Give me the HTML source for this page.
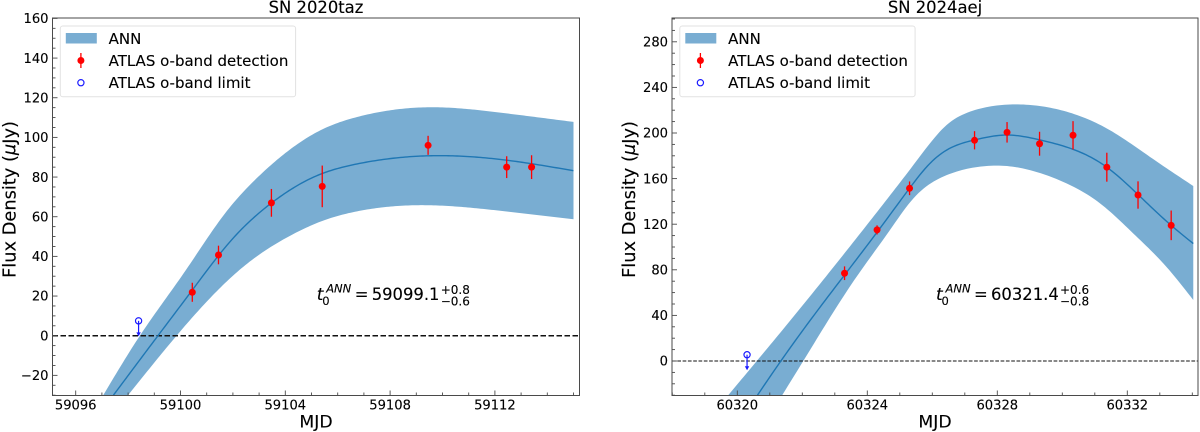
<!DOCTYPE html>
<html lang="en">
<head>
<meta charset="utf-8">
<title>SN light curves</title>
<style>
html,body{margin:0;padding:0;background:#fff;width:1200px;height:432px;overflow:hidden}
svg{display:block}
text{font-family:"DejaVu Sans","Liberation Sans",sans-serif;fill:#000;stroke:#000;stroke-width:.12px}
</style>
</head>
<body>
<svg id="fig" xmlns="http://www.w3.org/2000/svg" width="1200" height="432" viewBox="0 0 1200 432"></svg>
<script>
/* ---------- SN 2020taz data ---------- */
const tazTitle = 'SN 2020taz';
const tazXTicks = [59096, 59100, 59104, 59108, 59112];
const tazYTicks = [-20, 0, 20, 40, 60, 80, 100, 120, 140, 160];
const tazMidMjd = [59097.44, 59099.14, 59100.45, 59101.95, 59103.48, 59105.26, 59106.66, 59109.4, 59112.45, 59115];
const tazMidFlux = [-30, 0, 23, 48.3, 67, 81, 86.4, 90.7, 88.5, 83.2];
const tazUpMjd = [59097.05, 59098.45, 59100.2, 59101.7, 59102.97, 59104.24, 59105.5, 59106.66, 59109.5, 59112.2, 59115];
const tazUpFlux = [-30, 0, 33, 61.7, 80.2, 94.5, 104.6, 110, 115.2, 112.5, 107.8];
const tazLowMjd = [59098, 59099.85, 59101.06, 59102.4, 59104.24, 59105.5, 59106.66, 59109, 59112.2, 59115];
const tazLowFlux = [-30, 0, 18, 34.8, 50.8, 58.3, 62.5, 65.8, 63, 58.7];
const tazDetMjd = [59100.45, 59101.45, 59103.47, 59105.41, 59109.45, 59112.45, 59113.4];
const tazDetFlux = [21.9, 40.7, 67, 75.3, 96, 85, 85];
const tazDetErr = [4.8, 4.7, 7, 10.5, 4.8, 5.5, 6];
const tazLimitMjd = [59098.4];
const tazLimitFlux = [7.5];

/* ---------- SN 2024aej data ---------- */
const aejTitle = 'SN 2024aej';
const aejXTicks = [60320, 60324, 60328, 60332];
const aejYTicks = [0, 40, 80, 120, 160, 200, 240, 280];
const aejMidMjd = [60320.62, 60321.34, 60323.18, 60324.39, 60325.3, 60325.93, 60326.44, 60327.3, 60328.3, 60329.3, 60330.33, 60331.37, 60332.33, 60333.35, 60334.03];
const aejMidFlux = [-30, 0, 71, 116.4, 151.5, 173.4, 185, 193.9, 198.2, 194, 185.7, 170, 146, 119, 103];
const aejUpMjd = [60319.72, 60320.6, 60322.64, 60324.39, 60325.42, 60325.93, 60326.44, 60327.16, 60328.39, 60330.13, 60331.37, 60332.7, 60334.03];
const aejUpFlux = [-30, 0, 71, 134, 172, 191, 207, 218.7, 225, 218.7, 204, 179, 153.5];
const aejLowMjd = [60321.38, 60322.03, 60323.6, 60324.7, 60325.42, 60326.44, 60327.47, 60328.3, 60329.1, 60330.13, 60331.16, 60332.18, 60333.2, 60334.03];
const aejLowFlux = [-30, 0, 71, 115, 142.7, 163, 170.5, 171, 166.7, 155.8, 138.3, 112, 82.7, 53.5];
const aejDetMjd = [60323.3, 60324.3, 60325.3, 60327.3, 60328.3, 60329.3, 60330.33, 60331.37, 60332.33, 60333.35];
const aejDetFlux = [77, 115, 151.5, 193.6, 200.6, 190.6, 198, 170, 145.6, 119];
const aejDetErr = [6, 4, 6, 8, 9, 10.5, 12.4, 12.7, 12, 13];
const aejLimitMjd = [60320.3];
const aejLimitFlux = [5.5];

const NS = 'http://www.w3.org/2000/svg';
const fig = document.getElementById('fig');
const DARK = '#4a4a4a';
const BAND = '#79add2';
const LINE = '#1f77b4';

function make(parent, tag, attrs, txt) {
  const e = document.createElementNS(NS, tag);
  for (const k in attrs) e.setAttribute(k, attrs[k]);
  if (txt !== undefined) e.textContent = txt;
  parent.appendChild(e);
  return e;
}

/* natural cubic spline through the knots, returned as pixel points */
function splinePoints(xs, ys, sx, sy) {
  const n = xs.length, h = [], al = [0], l = [1], mu = [0], z = [0], c = new Array(n).fill(0), b = [], d = [];
  for (let i = 0; i < n - 1; i++) h.push(xs[i + 1] - xs[i]);
  for (let i = 1; i < n - 1; i++) {
    al[i] = 3 * (ys[i + 1] - ys[i]) / h[i] - 3 * (ys[i] - ys[i - 1]) / h[i - 1];
    l[i] = 2 * (xs[i + 1] - xs[i - 1]) - h[i - 1] * mu[i - 1];
    mu[i] = h[i] / l[i];
    z[i] = (al[i] - h[i - 1] * z[i - 1]) / l[i];
  }
  for (let j = n - 2; j >= 0; j--) {
    c[j] = (j === 0 ? 0 : z[j]) - mu[j] * c[j + 1];
    b[j] = (ys[j + 1] - ys[j]) / h[j] - h[j] * (c[j + 1] + 2 * c[j]) / 3;
    d[j] = (c[j + 1] - c[j]) / (3 * h[j]);
  }
  const pts = [];
  for (let j = 0; j < n - 1; j++) {
    const steps = Math.max(2, Math.ceil(h[j] * 12));
    for (let s = 0; s < steps; s++) {
      const t = h[j] * s / steps;
      pts.push([sx(xs[j] + t), sy(ys[j] + b[j] * t + c[j] * t * t + d[j] * t * t * t)]);
    }
  }
  pts.push([sx(xs[n - 1]), sy(ys[n - 1])]);
  return pts;
}
function pathOf(pts) {
  return pts.map((q, i) => (i ? 'L' : 'M') + q[0].toFixed(2) + ' ' + q[1].toFixed(2)).join('');
}

function drawPanel(p) {
  const sx = v => p.px0 + (v - p.x0) * p.kx;
  const sy = v => p.py0 - (v - p.y0) * p.ky;
  const L = p.left, R = p.right, T = 18, B = 395.5;

  const g = make(fig, 'g', {});
  
  

  const clip = make(g, 'clipPath', { id: p.id + '-clip' });
  make(clip, 'rect', { x: L, y: T, width: R - L, height: B - T });

  /* band */
  const up = splinePoints(p.upX, p.upY, sx, sy);
  const low = splinePoints(p.lowX, p.lowY, sx, sy).reverse();
  const band = make(g, 'path', { d: pathOf(up.concat(low)) + 'Z', fill: BAND, 'clip-path': 'url(#' + p.id + '-clip)' });
  
  

  /* zero line */
  const zero = make(g, 'line', { x1: L, x2: R, y1: sy(0), y2: sy(0), stroke: '#111', 'stroke-width': p.zeroWidth, 'stroke-dasharray': p.zeroDash });
  
  

  /* ann curve */
  const curve = make(g, 'path', { d: pathOf(splinePoints(p.midX, p.midY, sx, sy)), fill: 'none', stroke: LINE, 'stroke-width': 1.4, 'clip-path': 'url(#' + p.id + '-clip)' });
  
  

  /* detections */
  p.detX.forEach((v, i) => {
    const bar = make(g, 'line', { x1: sx(v), x2: sx(v), y1: sy(p.detY[i] - p.detE[i]), y2: sy(p.detY[i] + p.detE[i]), stroke: '#f00', 'stroke-width': 1.3 });
    
    
    const dot = make(g, 'circle', { cx: sx(v), cy: sy(p.detY[i]), r: 3.5, fill: '#f00' });
    
    
  });

  /* upper limits */
  p.limX.forEach((v, i) => {
    const cx = sx(v), cy = sy(p.limY[i]);
    const shaft = make(g, 'line', { x1: cx, x2: cx, y1: cy, y2: cy + 13, stroke: '#1a1aff', 'stroke-width': 1.2 });
    
    
    const head = make(g, 'path', { d: 'M' + (cx - 2.2) + ' ' + (cy + 11.5) + 'L' + (cx + 2.2) + ' ' + (cy + 11.5) + 'L' + cx + ' ' + (cy + 15.5) + 'Z', fill: '#1a1aff' });
    
    
    const ring = make(g, 'circle', { cx: cx, cy: cy, r: 3.1, fill: 'none', stroke: '#1a1aff', 'stroke-width': 1.2 });
    
    
  });

  /* spines */
  const frame = make(g, 'rect', { x: L, y: T, width: R - L, height: B - T, fill: 'none', stroke: DARK, 'stroke-width': 1 });
  
  

  /* x ticks */
  for (let v = Math.ceil(p.x0 - (p.px0 - L) / p.kx); sx(v) < R; v += 1) {
    const isMajor = p.xTicks.includes(v);
    const t = make(g, 'line', { x1: sx(v), x2: sx(v), y1: B, y2: B - (isMajor ? 5 : 3), stroke: DARK, 'stroke-width': 0.9 });
    
    
  }
  p.xTicks.forEach(v => {
    const lab = make(g, 'text', { x: sx(v), y: 409.5, 'text-anchor': 'middle', 'font-size': 13.1 }, String(v));
    
    
  });

  /* y ticks */
  const yLow = p.y0 - (B - p.py0) / p.ky, yHigh = p.y0 + (p.py0 - T) / p.ky;
  for (let v = Math.ceil(yLow / p.yMinor) * p.yMinor; v <= yHigh + 0.01; v += p.yMinor) {
    const isMajor = p.yTicks.includes(v);
    const t = make(g, 'line', { x1: L, x2: L + (isMajor ? 5 : 3), y1: sy(v), y2: sy(v), stroke: DARK, 'stroke-width': 0.9 });
    
    
  }
  p.yTicks.forEach(v => {
    const lab = make(g, 'text', { x: L - 4, y: sy(v) + 4.7, 'text-anchor': 'end', 'font-size': 13.1 }, String(v).replace('-', '\u2212'));
    
    
  });

  /* titles */
  const title = make(g, 'text', { x: (L + R) / 2, y: 13, 'text-anchor': 'middle', 'font-size': 16.4 }, p.title);
  
  
  const xt = make(g, 'text', { x: (L + R) / 2, y: 427.5, 'text-anchor': 'middle', 'font-size': 17.2 }, 'MJD');
  
  
  const yt = make(g, 'text', { transform: 'translate(' + (L - 37) + ' 199.5) rotate(-90)', 'text-anchor': 'middle', 'font-size': 17.8 });
  
  
  make(yt, 'tspan', {}, 'Flux Density (');
  make(yt, 'tspan', { 'font-style': 'italic' }, '\u03BC');
  make(yt, 'tspan', {}, 'Jy)');

  /* legend */
  const lx = L + 7.8;
  const lg = make(g, 'g', {});
  
  
  const box = make(lg, 'rect', { x: lx, y: 26, width: 235.3, height: 70.7, rx: 2.5, fill: '#fff', 'fill-opacity': 0.8, stroke: '#e2e2e2', 'stroke-width': 1 });
  
  
  const sw = make(lg, 'rect', { x: lx + 5.5, y: 33, width: 31, height: 10.5, fill: BAND });
  
  
  const t1 = make(lg, 'text', { x: lx + 48.3, y: 44, 'font-size': 15 }, 'ANN');
  
  
  const lb = make(lg, 'line', { x1: lx + 20.6, x2: lx + 20.6, y1: 53, y2: 68, stroke: '#f00', 'stroke-width': 1.3 });
  
  
  const ld = make(lg, 'circle', { cx: lx + 20.6, cy: 60.5, r: 3.5, fill: '#f00' });
  
  
  const t2 = make(lg, 'text', { x: lx + 48.3, y: 66, 'font-size': 15 }, 'ATLAS o-band detection');
  
  
  const lr = make(lg, 'circle', { cx: lx + 20.6, cy: 82.7, r: 3.1, fill: 'none', stroke: '#1a1aff', 'stroke-width': 1.2 });
  
  
  const t3 = make(lg, 'text', { x: lx + 48.3, y: 88.2, 'font-size': 15 }, 'ATLAS o-band limit');
  
  

  /* t0 annotation */
  const a = make(g, 'g', {});
  
  
  const ax = p.noteX, ay = 300;
  make(a, 'text', { x: ax, y: ay, 'font-size': 17, 'font-style': 'italic' }, 't');
  make(a, 'text', { x: ax + 9.5, y: ay - 7.5, 'font-size': 11.5, 'font-style': 'italic' }, 'ANN');
  make(a, 'text', { x: ax + 5.5, y: ay + 5, 'font-size': 11.5 }, '0');
  make(a, 'text', { x: ax + 38, y: ay, 'font-size': 16.4 }, '=');
  make(a, 'text', { x: ax + 55, y: ay, 'font-size': 16.4 }, p.noteValue);
  make(a, 'text', { x: ax + 124, y: ay - 6, 'font-size': 12 }, p.notePlus);
  make(a, 'text', { x: ax + 124, y: ay + 5.5, 'font-size': 12 }, p.noteMinus);
}

drawPanel({
  id: 'taz', title: tazTitle, left: 52.5, right: 579.5,
  x0: 59096, px0: 75.7, kx: 26.2, y0: 0, py0: 335.7, ky: 1.983,
  xTicks: tazXTicks, yTicks: tazYTicks, yMinor: 5,
  midX: tazMidMjd, midY: tazMidFlux, upX: tazUpMjd, upY: tazUpFlux, lowX: tazLowMjd, lowY: tazLowFlux,
  detX: tazDetMjd, detY: tazDetFlux, detE: tazDetErr, limX: tazLimitMjd, limY: tazLimitFlux,
  zeroWidth: 1.5, zeroDash: '5.5 2.5',
  noteX: 316.7, noteValue: '59099.1', notePlus: '+0.8', noteMinus: '\u22120.6'
});
drawPanel({
  id: 'aej', title: aejTitle, left: 672, right: 1198,
  x0: 60320, px0: 737.3, kx: 32.5, y0: 0, py0: 361, ky: 1.14,
  xTicks: aejXTicks, yTicks: aejYTicks, yMinor: 10,
  midX: aejMidMjd, midY: aejMidFlux, upX: aejUpMjd, upY: aejUpFlux, lowX: aejLowMjd, lowY: aejLowFlux,
  detX: aejDetMjd, detY: aejDetFlux, detE: aejDetErr, limX: aejLimitMjd, limY: aejLimitFlux,
  zeroWidth: 1, zeroDash: '3.7 1.6',
  noteX: 936, noteValue: '60321.4', notePlus: '+0.6', noteMinus: '\u22120.8'
});
</script>
</body>
</html>
